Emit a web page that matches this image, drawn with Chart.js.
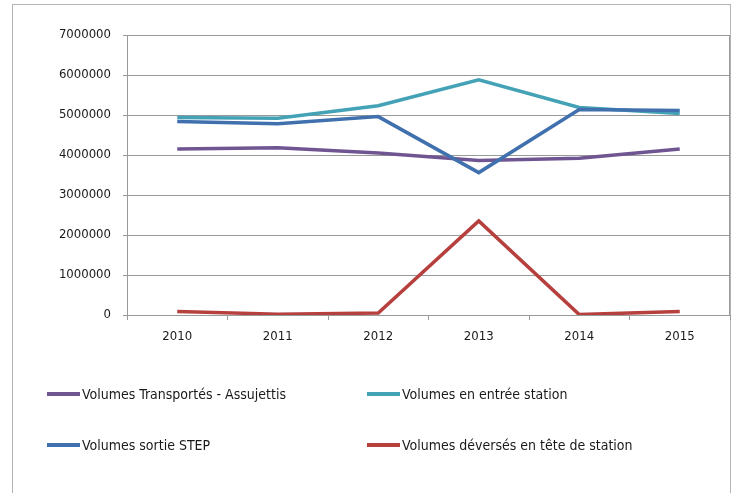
<!DOCTYPE html>
<html>
<head>
<meta charset="utf-8">
<script src="https://cdn.jsdelivr.net/npm/chart.js@4"></script>
<style>
  html, body { margin: 0; padding: 0; background: #fff; }
  #wrap { position: relative; width: 731px; height: 493px; overflow: hidden; }
  #frame { position: absolute; left: 12px; top: 4px; width: 717px; height: 520px; border: 1px solid #b4b4b4; }
  #chart { position: absolute; left: 0; top: 0; }
  .leg { position: absolute; font: 14px "Liberation Sans Narrow", "DejaVu Sans Condensed", sans-serif; color: #1a1a1a; white-space: nowrap; }
  .leg i { display: inline-block; width: 33px; height: 4px; vertical-align: middle; margin-right: 2px; position: relative; top: -1px; }
</style>
</head>
<body>
<div id="wrap">
  <div id="frame"></div>
  <canvas id="chart" width="731" height="493"></canvas>
  <div id="legend"></div>
</div>
<script>
const years = ['2010', '2011', '2012', '2013', '2014', '2015']
const seriesNames = [
  'Volumes Transportés - Assujettis',
  'Volumes en entrée station',
  'Volumes sortie STEP',
  'Volumes déversés en tête de station'
]
const transportes = [4150000, 4180000, 4050000, 3860000, 3920000, 4150000]
const entree = [4940000, 4920000, 5230000, 5880000, 5190000, 5040000]
const sortie = [4840000, 4780000, 4960000, 3560000, 5140000, 5110000]
const deverses = [90000, 20000, 50000, 2350000, 10000, 90000]
const yTicks = [0, 1000000, 2000000, 3000000, 4000000, 5000000, 6000000, 7000000]

const colors = ['#6f5592', '#44a2b6', '#4070ae', '#b5403e']
const values = [transportes, entree, sortie, deverses]

const font = { family: '"Liberation Sans Narrow", "DejaVu Sans Condensed", sans-serif', size: 13 }

// bord droit de la zone de tracé
const plotBorder = {
  id: 'plotBorder',
  afterDraw(chart) {
    const { ctx, chartArea: a } = chart
    ctx.save()
    ctx.strokeStyle = '#999'
    ctx.lineWidth = 1
    ctx.beginPath()
    ctx.moveTo(a.right - 0.5, a.top)
    ctx.lineTo(a.right - 0.5, a.bottom)
    ctx.stroke()
    ctx.restore()
  }
}

new Chart(document.getElementById('chart'), {
  type: 'line',
  data: {
    labels: years,
    datasets: values.map((v, i) => ({
      label: seriesNames[i],
      data: v,
      borderColor: colors[i],
      backgroundColor: colors[i],
      borderWidth: 3.5,
      pointRadius: 0,
      tension: 0,
      fill: false,
      order: 4 - i
    }))
  },
  options: {
    responsive: false,
    animation: false,
    layout: { padding: { left: 0, right: 1, top: 35, bottom: 138 } },
    plugins: { legend: { display: false }, tooltip: { enabled: false } },
    scales: {
      x: {
        offset: true,
        grid: { offset: true, drawOnChartArea: false, drawTicks: true, tickLength: 5, color: '#999' },
        border: { color: '#999' },
        ticks: { color: '#1a1a1a', font, padding: 9, maxRotation: 0 },
        afterFit: s => { s.height = 40 }
      },
      y: {
        min: 0,
        max: 7000000,
        afterBuildTicks: s => { s.ticks = yTicks.map(v => ({ value: v })) },
        grid: { color: '#999', tickLength: 4 },
        border: { color: '#999' },
        ticks: { color: '#1a1a1a', font, padding: 12, callback: v => String(v) },
        afterFit: s => { s.width = 127 }
      }
    }
  },
  plugins: [plotBorder]
})

// légende sur deux colonnes
const legPos = [[47, 395], [367, 395], [47, 446], [367, 446]]
document.getElementById('legend').innerHTML = seriesNames.map((n, i) =>
  `<div class="leg" style="left:${legPos[i][0]}px;top:${legPos[i][1] - 9}px"><i style="background:${colors[i]}"></i>${n}</div>`
).join('')
</script>
</body>
</html>
